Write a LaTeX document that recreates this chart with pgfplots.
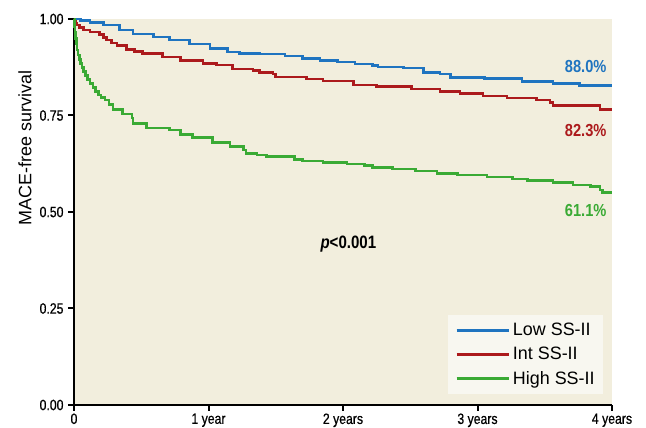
\documentclass[border=0pt]{standalone}
\usepackage{pgfplots}
\pgfplotsset{compat=1.18}
\usepackage{fontspec}
\setmainfont{Liberation Sans}
\newfontfamily\cond[FakeStretch=0.84]{Liberation Sans}
\newfontfamily\condtick[FakeStretch=0.82, FakeBold=0.6]{Liberation Sans}
\definecolor{bgbeige}{RGB}{242,238,221}
\definecolor{legbg}{RGB}{248,247,240}
\definecolor{cblue}{RGB}{31,116,192}
\definecolor{cred}{RGB}{172,26,28}
\definecolor{cgreen}{RGB}{58,170,52}

\begin{document}
\begin{tikzpicture}
\begin{axis}[
  at={(0,0)}, anchor=south west,
  scale only axis,
  width=538bp, height=386bp,
  xmin=0, xmax=4, ymin=0, ymax=1,
  clip=false,
  axis lines*=left,
  axis line style={black, line width=2bp},
  axis background/.style={fill=bgbeige},
  xtick={0,1,2,3,4},
  xticklabels={0,1 year,2 years,3 years,4 years},
  ytick={0,0.25,0.5,0.75,1},
  yticklabels={0.00,0.25,0.50,0.75,1.00},
  xtick pos=left, ytick pos=left,
  tick align=outside,
  major tick length=6bp,
  tick style={black, line width=2bp},
  /pgf/number format/assume math mode=true,
  tick label style={font=\condtick\fontsize{15}{15}\selectfont},
  yticklabel style={xshift=-1bp},
  xticklabel style={yshift=1bp},
  legend style={
    at={(0.983,0.0285)}, anchor=south east,
    draw=none, fill=legbg,
    font=\fontsize{18}{18}\selectfont,
    inner xsep=7bp, inner ysep=7bp,
    row sep=8bp, column sep=2bp,
    nodes={inner sep=1bp, fill=none},
  },
  legend cell align=left,
  legend image code/.code={\draw[#1] (0bp,0bp) -- (52bp,0bp);},
]
\addplot[cblue, line width=2.6bp, const plot] coordinates {
(0,1.0) (0.05,0.996) (0.12,0.991) (0.22,0.984) (0.34,0.971) (0.44,0.961)
(0.59,0.953) (0.71,0.946) (0.86,0.935) (1.01,0.924) (1.14,0.915) (1.23,0.911)
(1.38,0.909) (1.57,0.904) (1.70,0.898) (1.83,0.892) (1.96,0.889) (2.09,0.883)
(2.22,0.879) (2.26,0.876) (2.45,0.873) (2.60,0.862) (2.72,0.857) (2.80,0.849)
(3.05,0.846) (3.33,0.838) (3.56,0.833) (3.76,0.827) (4.0,0.827)};
\addplot[cred, line width=2.6bp, const plot] coordinates {
(0,1.0) (0.005,0.993) (0.01,0.99) (0.02,0.984) (0.04,0.978) (0.07,0.971)
(0.12,0.966) (0.19,0.960) (0.22,0.952) (0.24,0.946) (0.28,0.938) (0.32,0.931)
(0.39,0.921) (0.45,0.916) (0.51,0.911) (0.66,0.902) (0.79,0.892)
(0.96,0.885) (1.06,0.881) (1.18,0.870) (1.33,0.866) (1.38,0.861) (1.48,0.857)
(1.50,0.850) (1.73,0.845) (1.85,0.839) (2.08,0.829) (2.25,0.825) (2.51,0.819)
(2.72,0.812) (2.87,0.807) (3.04,0.801) (3.22,0.795) (3.44,0.790) (3.54,0.783)
(3.56,0.776) (3.91,0.766) (4.0,0.766)};
\addplot[cgreen, line width=2.6bp, const plot] coordinates {
(0,1.0) (0.004,0.98) (0.008,0.965) (0.012,0.95) (0.017,0.935) (0.022,0.92)
(0.03,0.907) (0.04,0.895) (0.05,0.885) (0.06,0.874) (0.07,0.864) (0.085,0.853)
(0.10,0.843) (0.12,0.833) (0.14,0.822) (0.16,0.812) (0.18,0.803) (0.20,0.797)
(0.23,0.790) (0.26,0.778) (0.29,0.766) (0.36,0.754)
(0.43,0.743) (0.44,0.730) (0.54,0.718) (0.71,0.712) (0.79,0.701) (0.88,0.693)
(1.03,0.680) (1.16,0.669) (1.26,0.661) (1.28,0.652) (1.36,0.648) (1.43,0.643)
(1.64,0.636) (1.70,0.632) (1.85,0.629) (2.03,0.624) (2.16,0.620) (2.22,0.615)
(2.37,0.611) (2.54,0.606) (2.70,0.600) (2.85,0.596) (3.07,0.591) (3.26,0.585)
(3.37,0.581) (3.56,0.576) (3.71,0.570) (3.84,0.566) (3.91,0.557) (3.93,0.550)
(4.0,0.550)};
\legend{Low SS-II, Int SS-II, High SS-II}
\node[xshift=-49bp, rotate=90, font=\fontsize{18}{18}\selectfont] at (rel axis cs:0,0.666) {MACE-free survival};
\node[anchor=east, text=cblue, font=\cond\bfseries\fontsize{17.5}{17.5}\selectfont] at (axis cs:3.985,0.876) {88.0\%};
\node[anchor=east, text=cred, font=\cond\bfseries\fontsize{17.5}{17.5}\selectfont] at (axis cs:3.985,0.711) {82.3\%};
\node[anchor=east, text=cgreen, font=\cond\bfseries\fontsize{17.5}{17.5}\selectfont] at (axis cs:3.985,0.505) {61.1\%};
\node[font=\cond\bfseries\fontsize{18}{18}\selectfont] at (axis cs:2.04,0.417) {\textit{p}<0.001};
\end{axis}
\pgfresetboundingbox
\path (-74bp,-23bp) rectangle (572bp,405bp);
\end{tikzpicture}
\end{document}
